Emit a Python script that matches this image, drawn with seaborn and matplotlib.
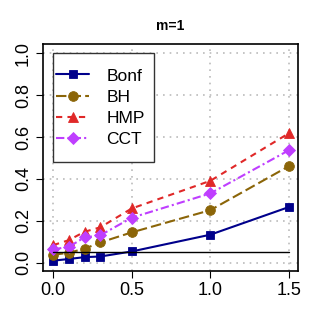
import matplotlib
matplotlib.use("Agg")
import matplotlib.pyplot as plt
import pandas as pd
import seaborn as sns
from matplotlib.patches import Rectangle

x_vals = [0.0, 0.1, 0.2, 0.3, 0.5, 1.0, 1.5]
bonf = [0.010, 0.018, 0.027, 0.030, 0.054, 0.134, 0.266]
bh = [0.038, 0.048, 0.067, 0.097, 0.145, 0.251, 0.461]
hmp = [0.084, 0.108, 0.148, 0.169, 0.259, 0.391, 0.618]
cct = [0.064, 0.076, 0.121, 0.131, 0.215, 0.331, 0.537]
methods = ["Bonf", "BH", "HMP", "CCT"]
alpha_level = 0.05

colors = {"Bonf": "#00008B", "BH": "#8B6508", "HMP": "#E02828", "CCT": "#BF3EFF"}
markers = {"Bonf": "s", "BH": "o", "HMP": "^", "CCT": "D"}
dashes = {"Bonf": "", "BH": (5, 2), "HMP": (3, 2.5), "CCT": (4, 1.5, 1, 1.5)}
sizes = {"Bonf": 6, "BH": 7, "HMP": 7.5, "CCT": 6}

data = pd.DataFrame({
    "x": x_vals * 4,
    "power": bonf + bh + hmp + cct,
    "method": [m for m in methods for _ in x_vals],
})

sns.set_theme(style="white")
plt.rcParams["font.family"] = ["Liberation Sans", "DejaVu Sans"]
plt.rcParams["text.color"] = "black"
plt.rcParams["xtick.color"] = "black"
plt.rcParams["ytick.color"] = "black"

fig = plt.figure(figsize=(3.21, 3.27), dpi=100)
ax = fig.add_axes([0.134, 0.172, 0.794, 0.693])

for m in methods:
    sub = data[data["method"] == m]
    sns.lineplot(data=sub, x="x", y="power", ax=ax, color=colors[m],
                 marker=markers[m], markersize=sizes[m], markeredgewidth=0.6,
                 markeredgecolor=colors[m], linewidth=1.5, label=m,
                 dashes=False)
    line = ax.lines[-1]
    if dashes[m]:
        line.set_dashes(dashes[m])

ax.plot([0, 1.5], [alpha_level, alpha_level], color="black", linewidth=1)

ax.set_xlim(-0.064, 1.557)
ax.set_ylim(-0.038, 1.043)
ax.set_xticks([0.0, 0.5, 1.0, 1.5])
ax.set_xticklabels(["0.0", "0.5", "1.0", "1.5"])
ax.set_yticks([0.0, 0.2, 0.4, 0.6, 0.8, 1.0])
ax.set_yticklabels(["0.0", "0.2", "0.4", "0.6", "0.8", "1.0"], rotation=90, va="center")
ax.tick_params(axis="both", labelsize=13, length=5, width=0.8, color="black",
               labelcolor="black", direction="out", left=True, bottom=True, pad=3)
ax.grid(True, color="#BBBBBB", linestyle=(0, (1, 3)), linewidth=1.2)
for s in ax.spines.values():
    s.set_color("black")
    s.set_linewidth(1.2)
ax.set_xlabel("")
ax.set_ylabel("")
ax.set_title("m=1", fontsize=10, fontweight="bold", pad=10, color="black")

# legend box drawn separately (R-style padding)
ax.add_patch(Rectangle((0.038, 0.478), 0.397, 0.481, transform=ax.transAxes,
                       facecolor="white", edgecolor="#333333", linewidth=1.0, zorder=4))

handles, labels = ax.get_legend_handles_labels()
leg = ax.legend(handles[:4], labels[:4], loc="upper left", bbox_to_anchor=(0.052, 0.893),
                fontsize=12.5, frameon=False, labelcolor="black",
                handlelength=1.9, handletextpad=1.0, labelspacing=0.35,
                borderpad=0, borderaxespad=0)
leg.set_zorder(5)

fig.savefig("out.png", dpi=100)
